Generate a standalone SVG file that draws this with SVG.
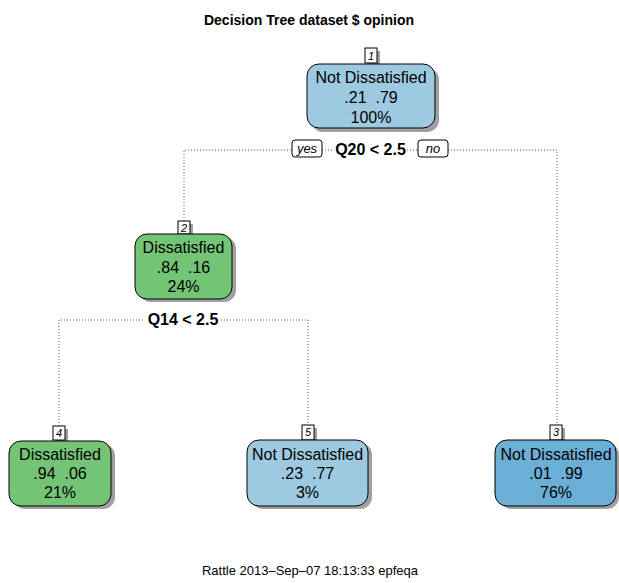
<svg xmlns="http://www.w3.org/2000/svg" width="619" height="583" viewBox="0 0 619 583">
<style>
text{font-family:"Liberation Sans",Arial,sans-serif;fill:#000;white-space:pre}
.title{font-size:14px;font-weight:bold;text-anchor:middle}
.foot{font-size:13px;text-anchor:middle}
.nt{font-size:16px;text-anchor:middle}
.split{font-size:16px;font-weight:bold;text-anchor:middle}
.yn{font-size:13px;font-style:italic;text-anchor:middle}
.num{font-size:11px;font-style:italic;text-anchor:middle}
.shadow{fill:#a0a0a0}
.box{stroke:#000;stroke-width:1}
.lb{fill:#fff;stroke:#000;stroke-width:1}
.conn{fill:none;stroke:#555;stroke-width:1;stroke-dasharray:1 2}
.blue{fill:#9ECAE1}
.dblue{fill:#6BAED6}
.green{fill:#74C476}
</style>
<text class="title" x="309" y="25">Decision Tree dataset $ opinion</text>
<g id="connectors">
<path class="conn" d="M184,221 V150 H292 M322,150 H334 M407,150 H418 M448,150 H557 V426"/>
<path class="conn" d="M59,426 V320 H145 M221,320 H308 V425"/>
</g>
<g id="split1">
<rect class="lb" x="292" y="140" width="30" height="17" rx="3"/>
<text class="yn" x="307" y="153">yes</text>
<text class="split" x="370.5" y="154.5">Q20 &lt; 2.5</text>
<rect class="lb" x="418" y="140" width="30" height="17" rx="3"/>
<text class="yn" x="433" y="153">no</text>
</g>
<g id="split2">
<text class="split" x="183" y="325">Q14 &lt; 2.5</text>
</g>
<g id="node1">
<rect class="shadow" x="368" y="51" width="12" height="15"/>
<rect class="lb" x="365" y="48" width="12" height="15"/>
<text class="num" x="371" y="60">1</text>
<rect class="shadow" x="311" y="68" width="128" height="64" rx="12"/>
<rect class="box blue" x="307" y="64" width="128" height="64" rx="12"/>
<text class="nt" x="371" y="83">Not Dissatisfied</text>
<text class="nt" x="371" y="103" xml:space="preserve">.21  .79</text>
<text class="nt" x="371" y="123">100%</text>
</g>
<g id="node2">
<rect class="shadow" x="181" y="224" width="12" height="13"/>
<rect class="lb" x="178" y="221" width="12" height="13"/>
<text class="num" x="184" y="232">2</text>
<rect class="shadow" x="139" y="237" width="97" height="65" rx="12"/>
<rect class="box green" x="135" y="234" width="97" height="65" rx="12"/>
<text class="nt" x="183.5" y="252.5">Dissatisfied</text>
<text class="nt" x="183.5" y="272.5" xml:space="preserve">.84  .16</text>
<text class="nt" x="183.5" y="292">24%</text>
</g>
<g id="node4">
<rect class="shadow" x="56" y="429" width="12" height="13"/>
<rect class="lb" x="53" y="426" width="12" height="14"/>
<text class="num" x="59" y="437">4</text>
<rect class="shadow" x="13" y="444" width="102" height="65" rx="12"/>
<rect class="box green" x="9" y="441" width="102" height="65" rx="12"/>
<text class="nt" x="60" y="459.5">Dissatisfied</text>
<text class="nt" x="60" y="479" xml:space="preserve">.94  .06</text>
<text class="nt" x="60" y="498">21%</text>
</g>
<g id="node5">
<rect class="shadow" x="305" y="428" width="12" height="13"/>
<rect class="lb" x="302" y="425" width="12" height="15"/>
<text class="num" x="308" y="436">5</text>
<rect class="shadow" x="251" y="443" width="121" height="66" rx="12"/>
<rect class="box blue" x="247" y="440" width="121" height="66" rx="12"/>
<text class="nt" x="307.5" y="459.5">Not Dissatisfied</text>
<text class="nt" x="307.5" y="479" xml:space="preserve">.23  .77</text>
<text class="nt" x="307.5" y="498">3%</text>
</g>
<g id="node3">
<rect class="shadow" x="553" y="428" width="12" height="13"/>
<rect class="lb" x="550" y="425" width="12" height="15"/>
<text class="num" x="556" y="436">3</text>
<rect class="shadow" x="499" y="443" width="120" height="66" rx="12"/>
<rect class="box dblue" x="495" y="440" width="121" height="66" rx="12"/>
<text class="nt" x="556" y="459.5">Not Dissatisfied</text>
<text class="nt" x="556" y="479" xml:space="preserve">.01  .99</text>
<text class="nt" x="556" y="498">76%</text>
</g>
<text class="foot" x="310" y="575">Rattle 2013–Sep–07 18:13:33 epfeqa</text>
</svg>
